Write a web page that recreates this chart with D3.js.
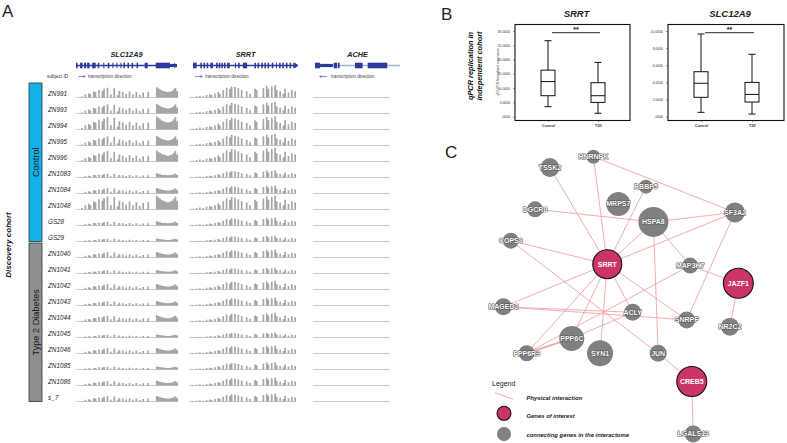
<!DOCTYPE html>
<html>
<head>
<meta charset="utf-8">
<script src="https://d3js.org/d3.v7.min.js"></script>
<style>
  body { margin: 0; background: #fff; }
  svg { display: block; font-family: "Liberation Sans", Arial, sans-serif; }
  .net-label { font-weight: bold; fill: #fff; paint-order: stroke; stroke-linejoin: round; }
</style>
</head>
<body>
<script>
// ---------- panel A data ----------
const samples = ["ZN991","ZN993","ZN994","ZN995","ZN996","ZN1083","ZN1084","ZN1048","GS28","GS29",
                 "ZN1040","ZN1041","ZN1042","ZN1043","ZN1044","ZN1045","ZN1046","ZN1085","ZN1086","s_7"];
const cohorts = [
  { name: "Control", first: "ZN991", last: "GS29", color: "#17b1ea" },
  { name: "Type 2 Diabetes", first: "ZN1040", last: "s_7", color: "#8f8f8f" }
];

// relative read coverage along each gene (bins)
const slcProfile = [0,0,0,0.1,0,0.3,0,0.4,0.3,0,
  0.55,0.5,0,0.7,0,0.6,0.8,0,0.9,0,
  0.3,0,0.85,0,0.2,0.6,0,0.5,0,0.35,
  0,0.55,0,0.3,0,0.5,0,0.25,0,0.45,
  0,0,0.5,0,0,0,0,0.95,0.85,0.75,
  0.65,0.6,0.55,0.5,0.5,0.55,0.6,0.75,0.9,0.6];
const srrtProfile = [0,0,0.05,0,0.1,0,0.15,0,0.1,0,
  0.2,0,0.25,0.2,0,0.3,0,0.45,0.3,0,
  0.6,0,0.8,0,0.7,0.9,0,0.85,0,0.75,
  0,0.6,0,0,0.5,0,0.3,0,0,0.7,
  0.6,0,0,0,0.8,0,0.95,0.7,0,0.9,
  0,1.0,0.6,0,0.5,0,0.3,0.7,0,0.4,
  0,0.6,0,0.5];
// peak coverage per sample
const slcPeak  = [75,70,95,70,80,30,40,100,30,22, 40,25,40,32,45,22,40,22,35,40];
const srrtPeak = [85,80,90,80,95,50,55,95,55,40, 55,40,60,55,60,35,55,50,55,55];

// gene models: exons [start, end, kind] on a 0-100 relative genomic axis
const slcExons = [[0,1.5,"cds"],[4,6.5,"cds"],[8,10,"cds"],[11,13.5,"cds"],[16,19.5,"cds"],[21.5,23,"cds"],
  [27,28,"cds"],[31.5,33,"cds"],[36,37,"cds"],[40,41,"cds"],[44,45,"cds"],[47,48.5,"cds"],[51,52.5,"cds"],
  [55,56.5,"cds"],[60,61.5,"cds"],[68,71,"cds"],[79,93,"cds"],[93,100,"utr"]];
const srrtExons = [[0,3.5,"cds"],[7,8.5,"cds"],[10,11.5,"cds"],[13,14.5,"cds"],[16.5,19,"cds"],[22,23.5,"cds"],
  [24.5,26,"cds"],[27,28.5,"cds"],[29.5,31,"cds"],[32.5,35,"cds"],[40,41,"cds"],[43,44.5,"cds"],[47.5,51.5,"cds"],
  [58.5,60,"cds"],[61.5,63,"cds"],[65,66.5,"cds"],[68,69.5,"cds"],[71,72.5,"cds"],[75,76.5,"cds"],[79,80,"cds"],
  [82,83.5,"cds"],[85,86.5,"cds"],[88.5,90,"cds"],[92,93.5,"cds"],[95.5,97,"cds"]];
const acheExons = [[0,6,"cds"],[6,21,"utr"],[22,26,"cds"],[27,29,"cds"],[47,56,"cds"],[62,85,"cds"]];

// ---------- panel B data ----------
const boxGroups = ["Control", "T2D"];
// [min, q1, median, q3, max]
const srrtBox = [[3.5, 7.35, 12.3, 16.3, 26.6], [1.2, 5.0, 7.35, 11.9, 19.0]];
const slcBox  = [[0.51, 2.26, 3.9, 5.25, 9.65], [0.31, 1.71, 2.6, 4.0, 7.28]];
const srrtTicks = [0, 5, 10, 15, 20, 25, 30];
const slcTicks  = [0, 2, 4, 6, 8, 10];

// ---------- panel C data ----------
// name, layout x, layout y, node size, type
const nodes = [
  ["HNRNPK",38.9,0.6,7,"c"],["TSSK2",20.8,4.5,9.5,"c"],["RBBP5",60.8,11.3,7,"c"],["MRPS7",49.3,17.5,12,"c"],
  ["DGCR8",14.6,19.4,8,"c"],["SF3A2",97.9,20.5,10,"c"],["HSPA8",63.9,23.9,15,"c"],["COPS8",4.5,30.6,8,"c"],
  ["SRRT",44.7,39.0,14.5,"g"],["MAP3K7",79.2,39.5,8,"c"],["JAZF1",99.3,45.8,15,"g"],["MAGED2",1.4,54.2,8.5,"c"],
  ["ACLY",55.3,56.2,8.5,"c"],["SNRPF",77.8,58.9,8.5,"c"],["NR2C2",95.8,61.3,9,"c"],["PPP6C",29.9,65.5,12.5,"c"],
  ["PPP6R3",11.1,70.8,8,"c"],["SYN1",41.7,70.8,13,"c"],["JUN",65.9,70.8,8.5,"c"],["CREB5",79.9,80.9,15,"g"],
  ["LGALS13",80.5,99.6,8.5,"c"]
];
const edges = [
  ["SRRT","TSSK2"],["SRRT","HNRNPK"],["SRRT","RBBP5"],["SRRT","HSPA8"],["SRRT","SF3A2"],["SRRT","COPS8"],
  ["SRRT","MAGED2"],["SRRT","PPP6C"],["SRRT","PPP6R3"],["SRRT","SYN1"],["SRRT","ACLY"],["SRRT","SNRPF"],
  ["COPS8","JUN"],["DGCR8","HSPA8"],["HSPA8","SF3A2"],["HNRNPK","SF3A2"],["HSPA8","MAP3K7"],["MAP3K7","JAZF1"],
  ["SF3A2","SNRPF"],["JAZF1","NR2C2"],["HSPA8","JUN"],["JUN","CREB5"],["CREB5","LGALS13"],["MAGED2","ACLY"],
  ["MAGED2","SNRPF"],["PPP6C","ACLY"],["PPP6R3","PPP6C"],["PPP6R3","MAP3K7"]
];

const svg = d3.select("body").append("svg").attr("width", 787).attr("height", 443);

// panel letters
[["A", 2, 17], ["B", 441, 20], ["C", 445, 158]].forEach(([t, x, y]) =>
  svg.append("text").attr("x", x).attr("y", y).attr("font-size", 17).attr("fill", "#222").text(t));

// ================= Panel A =================
const rowY = d3.scalePoint().domain(samples).range([94, 398]);
const covH = d3.scaleLinear().domain([0, 100]).range([0, 14.5]);
const modelY = 65.5;
const blue = "#2c3a9c";

const genes = [
  { name: "SLC12A9", profile: slcProfile, peak: slcPeak, track: [76, 178], model: [76, 177], exons: slcExons, dir: 1, line: blue },
  { name: "SRRT", profile: srrtProfile, peak: srrtPeak, track: [189, 296], model: [193, 298], exons: srrtExons, dir: 1, line: blue },
  { name: "ACHE", profile: null, peak: null, track: [313, 390], model: [315, 400], exons: acheExons, dir: -1, line: "#aab0e0" }
];

const A = svg.append("g");

genes.forEach(g => {
  const gx = d3.scaleLinear().domain([0, 100]).range(g.model);
  const mid = (g.model[0] + g.model[1]) / 2;
  A.append("text").attr("x", mid).attr("y", 57).attr("text-anchor", "middle")
    .attr("font-size", 7.3).attr("font-weight", "bold").attr("font-style", "italic").attr("fill", "#222").text(g.name);
  A.append("line").attr("x1", gx(0)).attr("x2", gx(100)).attr("y1", modelY).attr("y2", modelY)
    .attr("stroke", g.line).attr("stroke-width", 1.3);
  A.selectAll(null).data(g.exons).join("rect")
    .attr("x", d => gx(d[0])).attr("width", d => gx(d[1]) - gx(d[0]))
    .attr("y", d => modelY - (d[2] === "utr" ? 1.6 : 2.8))
    .attr("height", d => d[2] === "utr" ? 3.2 : 5.6)
    .attr("fill", blue);
  // end arrow on the model
  const ax = g.dir > 0 ? gx(100) : gx(0);
  A.append("path").attr("d", `M${ax},${modelY} l${-g.dir * 3},-2.8 v5.6 z`).attr("fill", blue);

  // transcription direction
  const sx = g.model[0] + (g.dir > 0 ? 2 : 6);
  A.append("line").attr("x1", sx).attr("x2", sx + 6).attr("y1", 76.5).attr("y2", 76.5)
    .attr("stroke", "#6a74c4").attr("stroke-width", 0.8);
  const hx = g.dir > 0 ? sx + 6 : sx;
  A.append("path").attr("d", `M${hx + g.dir * 2},76.5 l${-g.dir * 2.5},-1.6 v3.2 z`).attr("fill", "#6a74c4");
  A.append("text").attr("x", sx + 10).attr("y", 78).attr("font-size", 4.6).attr("fill", "#444")
    .text("transcription direction");

  // coverage tracks
  const xb = g.profile ? d3.scaleLinear().domain([0, g.profile.length]).range(g.track) : null;
  samples.forEach((s, i) => {
    const base = rowY(s) + 3.5;
    A.append("line").attr("x1", g.track[0]).attr("x2", g.track[1]).attr("y1", base).attr("y2", base)
      .attr("stroke", "#b4b4b4").attr("stroke-width", 0.7);
    if (!g.profile) return;
    const area = d3.area().curve(d3.curveStepAfter)
      .x((d, j) => xb(j)).y0(base).y1(d => base - covH(d * g.peak[i]));
    A.append("path").datum([...g.profile, 0]).attr("d", area).attr("fill", "#a6a6a6");
  });
});

A.append("text").attr("x", 47).attr("y", 78).attr("font-size", 4.8).attr("fill", "#333").text("subject ID");

A.selectAll(".sid").data(samples).join("text")
  .attr("x", 48).attr("y", d => rowY(d)).attr("dy", "0.35em")
  .attr("font-size", 6.3).attr("font-style", "italic").attr("fill", "#222").text(d => d);

cohorts.forEach(c => {
  const y0 = rowY(c.first) - 11, y1 = rowY(c.last) + 3.5;
  A.append("rect").attr("x", 29).attr("y", y0).attr("width", 13).attr("height", y1 - y0)
    .attr("fill", c.color).attr("stroke", "#333").attr("stroke-width", 0.8);
  A.append("text").attr("transform", `translate(38.8,${(y0 + y1) / 2}) rotate(-90)`)
    .attr("text-anchor", "middle").attr("font-size", 9.2).attr("fill", "#1a1a1a").text(c.name);
});

A.append("text").attr("transform", "translate(11,245) rotate(-90)").attr("text-anchor", "middle")
  .attr("font-size", 8).attr("font-weight", "bold").attr("font-style", "italic").attr("fill", "#111")
  .text("Discovery cohort");

// ================= Panel B =================
const B = svg.append("g");
const bt = B.append("text").attr("transform", "translate(477,66) rotate(-90)").attr("text-anchor", "middle")
  .attr("font-size", 7.4).attr("font-weight", "bold").attr("font-style", "italic").attr("fill", "#111");
bt.append("tspan").attr("x", 0).attr("y", -4).text("qPCR replication in");
bt.append("tspan").attr("x", 0).attr("y", 4.6).text("independent cohort");

const fmt = v => d3.format(".4f")(v).replace(/^0\./, ".");
const boxPlots = [
  { title: "SRRT", stats: srrtBox, ticks: srrtTicks, frame: [515, 630], yTitle: true },
  { title: "SLC12A9", stats: slcBox, ticks: slcTicks, frame: [668, 784], yTitle: false }
];
boxPlots.forEach(p => {
  const [fl, fr] = p.frame;
  const y = d3.scaleLinear().domain([0, d3.max(p.ticks)]).range([116.7, 31]);
  const x = d3.scalePoint().domain(boxGroups).range([fl + 33, fr - 32]);
  const g = B.append("g");
  g.append("text").attr("x", (fl + fr) / 2 + 4).attr("y", 17).attr("text-anchor", "middle")
    .attr("font-size", 9.5).attr("font-weight", "bold").attr("font-style", "italic").attr("fill", "#222").text(p.title);
  g.append("rect").attr("x", fl).attr("y", 24.5).attr("width", fr - fl).attr("height", 96)
    .attr("fill", "none").attr("stroke", "#111").attr("stroke-width", 1.1);
  const ax = g.append("g").attr("transform", `translate(${fl},0)`)
    .call(d3.axisLeft(y).tickValues(p.ticks).tickSize(2).tickFormat(fmt));
  ax.select(".domain").remove();
  ax.selectAll("text").attr("font-size", 3.4).attr("fill", "#333");
  ax.selectAll("line").attr("stroke", "#333").attr("stroke-width", 0.5);
  const xa = g.append("g").attr("transform", `translate(0,120.5)`).call(d3.axisBottom(x).tickSize(1.5));
  xa.select(".domain").remove();
  xa.selectAll("text").attr("font-size", 3.6).attr("font-weight", "bold").attr("fill", "#333").attr("dy", "0.6em");
  xa.selectAll("line").attr("stroke", "#333").attr("stroke-width", 0.5);
  if (p.yTitle) {
    g.append("text").attr("transform", `translate(${fl - 16},72) rotate(-90)`).attr("text-anchor", "middle")
      .attr("font-size", 3.2).attr("fill", "#333").text("qRT-PCR Normalized expression");
  }
  const bw = 14;
  const ln = (x1, y1, x2, y2) => g.append("line").attr("x1", x1).attr("y1", y1).attr("x2", x2).attr("y2", y2)
    .attr("stroke", "#111").attr("stroke-width", 1);
  p.stats.forEach((s, i) => {
    const cx = x(boxGroups[i]);
    ln(cx, y(s[0]), cx, y(s[1]));
    ln(cx, y(s[3]), cx, y(s[4]));
    ln(cx - 3.5, y(s[0]), cx + 3.5, y(s[0]));
    ln(cx - 3.5, y(s[4]), cx + 3.5, y(s[4]));
    g.append("rect").attr("x", cx - bw / 2).attr("y", y(s[3])).attr("width", bw).attr("height", y(s[1]) - y(s[3]))
      .attr("fill", "#fff").attr("stroke", "#111").attr("stroke-width", 1);
    ln(cx - bw / 2, y(s[2]), cx + bw / 2, y(s[2]));
  });
  const sx0 = x("Control") + 4, sx1 = x("T2D") + 2;
  g.append("line").attr("x1", sx0).attr("x2", sx1).attr("y1", 32.7).attr("y2", 32.7).attr("stroke", "#111").attr("stroke-width", 0.9);
  g.append("text").attr("x", (sx0 + sx1) / 2).attr("y", 31.5).attr("text-anchor", "middle")
    .attr("font-size", 7).attr("font-weight", "bold").attr("fill", "#111").text("**");
});

// ================= Panel C =================
const C = svg.append("g");
const nx = d3.scaleLinear().domain([0, 100]).range([500, 740]);
const ny = d3.scaleLinear().domain([0, 100]).range([155, 435]);
const nr = d3.scaleLinear().domain([0, 15]).range([0, 15]);
const pink = "#cc3465", grey = "#808080", edgeCol = "#f2a3a6";
const byName = new Map(nodes.map(n => [n[0], n]));

C.selectAll(".edge").data(edges).join("line")
  .attr("x1", d => nx(byName.get(d[0])[1])).attr("y1", d => ny(byName.get(d[0])[2]))
  .attr("x2", d => nx(byName.get(d[1])[1])).attr("y2", d => ny(byName.get(d[1])[2]))
  .attr("stroke", edgeCol).attr("stroke-width", d => (d[0] === "PPP6R3" && d[1] === "PPP6C") ? 1.8 : 0.9);

C.selectAll(".node").data(nodes).join("circle")
  .attr("cx", d => nx(d[1])).attr("cy", d => ny(d[2])).attr("r", d => nr(d[3]))
  .attr("fill", d => d[4] === "g" ? pink : grey)
  .attr("stroke", d => d[4] === "g" ? "#111" : "none").attr("stroke-width", 1.1);

C.selectAll(".net-label").data(nodes).join("text").attr("class", "net-label")
  .attr("x", d => nx(d[1])).attr("y", d => ny(d[2])).attr("dy", "0.35em").attr("text-anchor", "middle")
  .attr("font-size", 7)
  .attr("stroke", d => d[4] === "g" ? "none" : "#4a4a4a").attr("stroke-width", 1)
  .text(d => d[0]);

// legend
C.append("text").attr("x", 492).attr("y", 385.5).attr("font-size", 7).attr("fill", "#222").text("Legend");
C.append("line").attr("x1", 495).attr("y1", 392.7).attr("x2", 513.3).attr("y2", 399.3).attr("stroke", edgeCol).attr("stroke-width", 0.9);
C.append("circle").attr("cx", 504).attr("cy", 413.3).attr("r", 7).attr("fill", pink).attr("stroke", "#111").attr("stroke-width", 1.1);
C.append("circle").attr("cx", 504).attr("cy", 434).attr("r", 7).attr("fill", grey);
[["Physical interaction", 400], ["Genes of interest", 418], ["connecting genes in the interactome", 437]].forEach(([t, y]) =>
  C.append("text").attr("x", 526.5).attr("y", y).attr("font-size", 5.9).attr("font-weight", "bold")
    .attr("font-style", "italic").attr("fill", "#222").text(t));
</script>
</body>
</html>
